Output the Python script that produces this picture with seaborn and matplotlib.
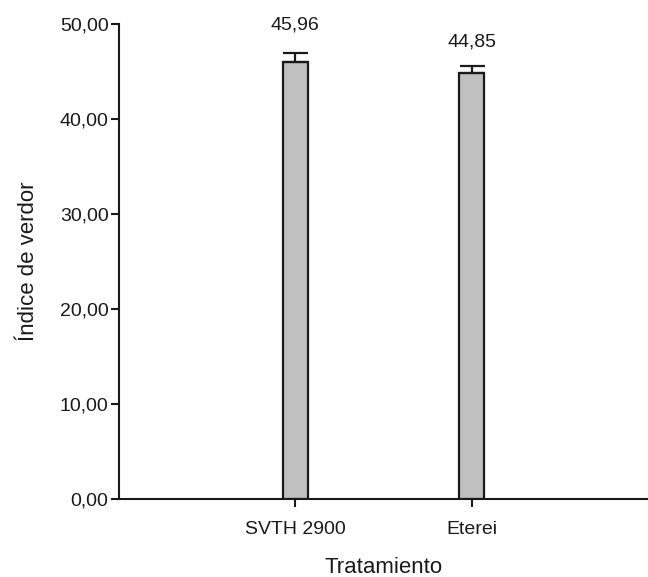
import matplotlib
matplotlib.use("Agg")
import matplotlib.pyplot as plt
import seaborn as sns
import pandas as pd

categories = ["SVTH 2900", "Eterei"]
values = [45.96, 44.85]
errors = [0.98, 0.72]
labels = ["45,96", "44,85"]
label_offsets_pt = [20.5, 17.3]
yticks = [0, 10, 20, 30, 40, 50]
ytick_labels = ["0,00", "10,00", "20,00", "30,00", "40,00", "50,00"]

sns.set_style("white")
plt.rcParams["font.family"] = ["Liberation Sans", "DejaVu Sans"]

df = pd.DataFrame({"Tratamiento": categories, "valor": values})

fig = plt.figure(figsize=(6.48, 5.77), dpi=100)
ax = fig.add_axes([0.1836, 0.1352, 0.8164, 0.8232])

sns.barplot(data=df, x="Tratamiento", y="valor", ax=ax, width=0.145,
            color="#c0c0c0", edgecolor="#1a1a1a", linewidth=1.6, saturation=1)

pos = list(range(len(categories)))
ax.errorbar(pos, values, yerr=[[0] * len(errors), errors], fmt="none",
            ecolor="#1a1a1a", elinewidth=1.6, capsize=9, capthick=1.6)

for p, v, e, t, o in zip(pos, values, errors, labels, label_offsets_pt):
    ax.annotate(t, (p, v + e), xytext=(0, o), textcoords="offset points",
                ha="center", va="center", fontsize=14, color="#1a1a1a")

ax.set_xlim(-1, 2)
ax.set_ylim(0, 50)
ax.set_yticks(yticks)
ax.set_yticklabels(ytick_labels)
ax.set_xlabel("Tratamiento", fontsize=16, color="#1a1a1a", labelpad=13.5)
ax.set_ylabel("Índice de verdor", fontsize=16, color="#1a1a1a", labelpad=15)

for s in ["top", "right"]:
    ax.spines[s].set_visible(False)
for s in ["left", "bottom"]:
    ax.spines[s].set_color("#1a1a1a")
    ax.spines[s].set_linewidth(1.5)
ax.tick_params(axis="both", direction="out", length=5.5, width=1.5, color="#1a1a1a",
               labelsize=14, labelcolor="#1a1a1a", left=True, bottom=True)
ax.tick_params(axis="x", pad=10.5)
ax.tick_params(axis="y", pad=2)

fig.savefig("out.png", dpi=100)
